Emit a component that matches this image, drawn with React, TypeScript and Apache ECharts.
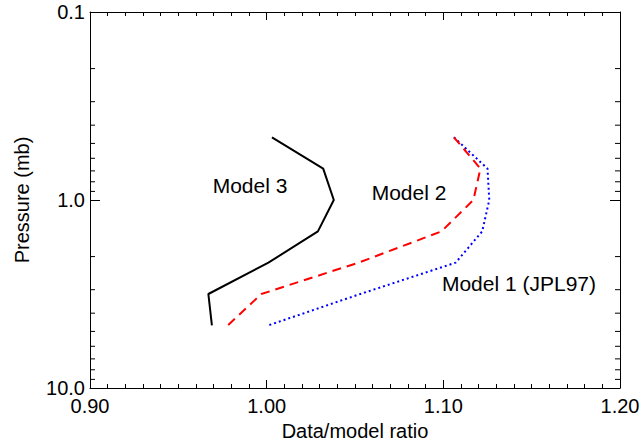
import React, { useEffect, useRef } from "react";
import * as echarts from "echarts";

// Pressure levels (mb)
const pressures = [0.464, 0.681, 1.0, 1.468, 2.154, 3.162, 4.642];
// Data/model ratios
const model1 = [1.106, 1.125, 1.126, 1.122, 1.107, 1.053, 1.001];
const model2 = [1.106, 1.121, 1.117, 1.099, 1.052, 0.997, 0.978];
const model3 = [1.003, 1.032, 1.038, 1.029, 1.001, 0.967, 0.969];

// Minor log tick values on the pressure axis
const yMinorTicks = [0.2, 0.3, 0.4, 0.5, 0.6, 0.7, 0.8, 0.9, 2, 3, 4, 5, 6, 7, 8, 9];

// Annotations (data coordinates)
const labelNames = ["Model 3", "Model 2", "Model 1 (JPL97)"];
const labelX = [0.9906, 1.0806, 1.1428];
const labelY = [0.838, 0.912, 2.79];

const X_MIN = 0.9;
const X_MAX = 1.2;
const FONT = "'Liberation Sans', Arial, Helvetica, sans-serif";

export default function App() {
  const ref = useRef<HTMLDivElement>(null);
  useEffect(() => {
    if (!ref.current) return;
    const chart = echarts.init(ref.current, undefined, { renderer: "svg" });
    const axisCommon = {
      axisLine: { show: true, lineStyle: { color: "#000", width: 1 } },
      splitLine: { show: false },
    };
    const xAxisBase = {
      type: "value",
      min: X_MIN,
      max: X_MAX,
      interval: 0.1,
      ...axisCommon,
      axisTick: { show: true, inside: true, length: 8, lineStyle: { color: "#000" } },
      minorTick: { show: true, splitNumber: 10, length: 4, lineStyle: { color: "#000" } },
      minorSplitLine: { show: false },
    };
    const yAxisBase = {
      type: "log",
      logBase: 10,
      min: 0.1,
      max: 10,
      inverse: true,
      ...axisCommon,
      axisTick: { show: true, inside: true, length: 10, lineStyle: { color: "#000" } },
    };
    const mk = (name: string, vals: number[], color: string, type: any, width: number) => ({
      name,
      type: "line",
      data: vals.map((v, i) => [v, pressures[i]]),
      showSymbol: false,
      symbol: "none",
      lineStyle: { color, type, width },
      xAxisIndex: 0,
      yAxisIndex: 0,
      z: 3,
    });
    chart.setOption({
      animation: false,
      textStyle: { fontFamily: FONT },
      grid: {
        left: 90,
        top: 12,
        right: 24,
        bottom: 53,
        containLabel: false,
        outerBoundsMode: "none",
      },
      xAxis: [
        {
          ...xAxisBase,
          position: "bottom",
          name: "Data/model ratio",
          nameLocation: "middle",
          nameGap: 28,
          nameTextStyle: { color: "#000", fontSize: 20, fontFamily: FONT },
          axisLabel: {
            color: "#000",
            fontSize: 20,
            fontFamily: FONT,
            margin: 8,
            formatter: (v: number) => v.toFixed(2),
          },
        },
        { ...xAxisBase, position: "top", axisLabel: { show: false } },
      ],
      yAxis: [
        {
          ...yAxisBase,
          position: "left",
          name: "Pressure (mb)",
          nameLocation: "middle",
          nameGap: 58,
          nameTextStyle: { color: "#000", fontSize: 20, fontFamily: FONT },
          axisLabel: {
            color: "#000",
            fontSize: 20,
            fontFamily: FONT,
            margin: 5,
            formatter: (v: number) => Number(v).toFixed(1),
          },
        },
        { ...yAxisBase, position: "right", axisLabel: { show: false } },
      ],
      series: [
        mk("Model 1 (JPL97)", model1, "#0000ff", [2, 3], 2),
        mk("Model 2", model2, "#ff0000", [9, 6], 2),
        mk("Model 3", model3, "#000000", "solid", 2),
        {
          type: "custom",
          xAxisIndex: 0,
          yAxisIndex: 0,
          silent: true,
          clip: false,
          data: yMinorTicks.map((p) => [X_MIN, p]),
          renderItem: (params: any, api: any) => {
            const p = api.value(1);
            const l = api.coord([X_MIN, p]);
            const r = api.coord([X_MAX, p]);
            const style = { stroke: "#000", lineWidth: 1 };
            return {
              type: "group",
              children: [
                { type: "line", shape: { x1: l[0], y1: l[1], x2: l[0] + 5, y2: l[1] }, style },
                { type: "line", shape: { x1: r[0], y1: r[1], x2: r[0] - 5, y2: r[1] }, style },
              ],
            };
          },
        },
      ],
    });
    const graphic = labelNames.map((name, i) => {
      const pt = chart.convertToPixel({ gridIndex: 0 }, [labelX[i], labelY[i]]) as number[];
      return {
        type: "text",
        x: pt[0],
        y: pt[1],
        style: {
          text: name,
          fill: "#000",
          font: `21px ${FONT}`,
          align: "center",
          verticalAlign: "middle",
        },
      };
    });
    chart.setOption({ graphic });
    return () => chart.dispose();
  }, []);
  return <div ref={ref} style={{ width: 644, height: 441, position: "absolute", left: 0, top: 0 }} />;
}
